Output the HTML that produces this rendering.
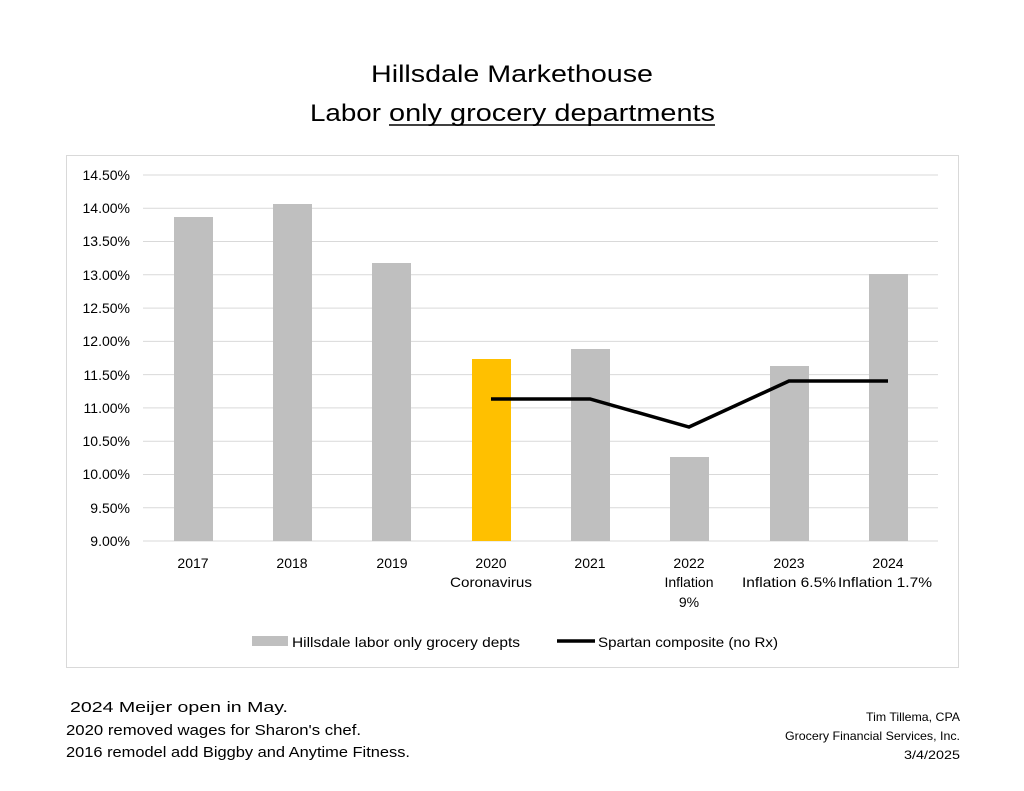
<!DOCTYPE html>
<html><head><meta charset="utf-8"><style>
body{margin:0;background:#fff;}
svg{display:block;font-family:"Liberation Sans",sans-serif;}
</style></head><body>
<svg width="1024" height="791" viewBox="0 0 1024 791">
<rect width="1024" height="791" fill="#fff"/>
<text x="371" y="82" font-size="24" textLength="282" lengthAdjust="spacingAndGlyphs" fill="#000">Hillsdale Markethouse</text>
<text x="310" y="121" font-size="24" textLength="71" lengthAdjust="spacingAndGlyphs" fill="#000">Labor</text>
<text x="389" y="121" font-size="24" textLength="326" lengthAdjust="spacingAndGlyphs" fill="#000">only grocery departments</text>
<line x1="389" y1="125" x2="715" y2="125" stroke="#000" stroke-width="1.5"/>
<rect x="66.5" y="155.5" width="892" height="512" fill="#fff" stroke="#d9d9d9"/>
<g stroke="#d9d9d9" stroke-width="1">
<line x1="143" x2="938" y1="175" y2="175"/><line x1="143" x2="938" y1="208.3" y2="208.3"/>
<line x1="143" x2="938" y1="241.5" y2="241.5"/><line x1="143" x2="938" y1="274.8" y2="274.8"/>
<line x1="143" x2="938" y1="308.1" y2="308.1"/><line x1="143" x2="938" y1="341.4" y2="341.4"/>
<line x1="143" x2="938" y1="374.6" y2="374.6"/><line x1="143" x2="938" y1="407.9" y2="407.9"/>
<line x1="143" x2="938" y1="441.2" y2="441.2"/><line x1="143" x2="938" y1="474.5" y2="474.5"/>
<line x1="143" x2="938" y1="507.7" y2="507.7"/><line x1="143" x2="938" y1="541" y2="541"/>
</g>
<g font-size="14" fill="#000" text-anchor="end">
<text x="130" y="180">14.50%</text><text x="130" y="213">14.00%</text><text x="130" y="246">13.50%</text>
<text x="130" y="280">13.00%</text><text x="130" y="313">12.50%</text><text x="130" y="346">12.00%</text>
<text x="130" y="380">11.50%</text><text x="130" y="413">11.00%</text><text x="130" y="446">10.50%</text>
<text x="130" y="479">10.00%</text><text x="130" y="513">9.50%</text><text x="130" y="546">9.00%</text>
</g>
<g fill="#bfbfbf">
<rect x="174" y="217" width="39" height="324"/>
<rect x="273" y="204" width="39" height="337"/>
<rect x="372" y="263" width="39" height="278"/>
<rect x="472" y="359" width="39" height="182" fill="#ffc000"/>
<rect x="571" y="349" width="39" height="192"/>
<rect x="670" y="457" width="39" height="84"/>
<rect x="770" y="366" width="39" height="175"/>
<rect x="869" y="274" width="39" height="267"/>
</g>
<polyline points="491,399 590,399 689,427 789,381 888,381" fill="none" stroke="#000" stroke-width="3.5"/>
<g font-size="14" fill="#000" text-anchor="middle">
<text x="193" y="568">2017</text><text x="292" y="568">2018</text><text x="392" y="568">2019</text>
<text x="491" y="568">2020</text><text x="491" y="587" textLength="82" lengthAdjust="spacingAndGlyphs">Coronavirus</text>
<text x="590" y="568">2021</text>
<text x="689" y="568">2022</text><text x="689" y="587">Inflation</text><text x="689" y="607">9%</text>
<text x="789" y="568">2023</text><text x="789" y="587" textLength="94" lengthAdjust="spacingAndGlyphs">Inflation 6.5%</text>
<text x="888" y="568">2024</text><text x="885" y="587" textLength="94" lengthAdjust="spacingAndGlyphs">Inflation 1.7%</text>
</g>
<rect x="252" y="636" width="36" height="10" fill="#bfbfbf"/>
<text x="292" y="647" font-size="14" textLength="228" lengthAdjust="spacingAndGlyphs">Hillsdale labor only grocery depts</text>
<line x1="557" y1="641" x2="595" y2="641" stroke="#000" stroke-width="3.5"/>
<text x="598" y="647" font-size="14" textLength="180" lengthAdjust="spacingAndGlyphs">Spartan composite (no Rx)</text>
<g font-size="15" fill="#000">
<text x="70" y="712" textLength="218" lengthAdjust="spacingAndGlyphs">2024 Meijer open in May.</text>
<text x="66" y="735" textLength="295" lengthAdjust="spacingAndGlyphs">2020 removed wages for Sharon's chef.</text>
<text x="66" y="757" textLength="344" lengthAdjust="spacingAndGlyphs">2016 remodel add Biggby and Anytime Fitness.</text>
</g>
<g font-size="12" fill="#000" text-anchor="end">
<text x="960" y="721" textLength="94" lengthAdjust="spacingAndGlyphs">Tim Tillema, CPA</text>
<text x="960" y="740" textLength="175" lengthAdjust="spacingAndGlyphs">Grocery Financial Services, Inc.</text>
<text x="960" y="759" textLength="56" lengthAdjust="spacingAndGlyphs">3/4/2025</text>
</g>
</svg>
</body></html>
